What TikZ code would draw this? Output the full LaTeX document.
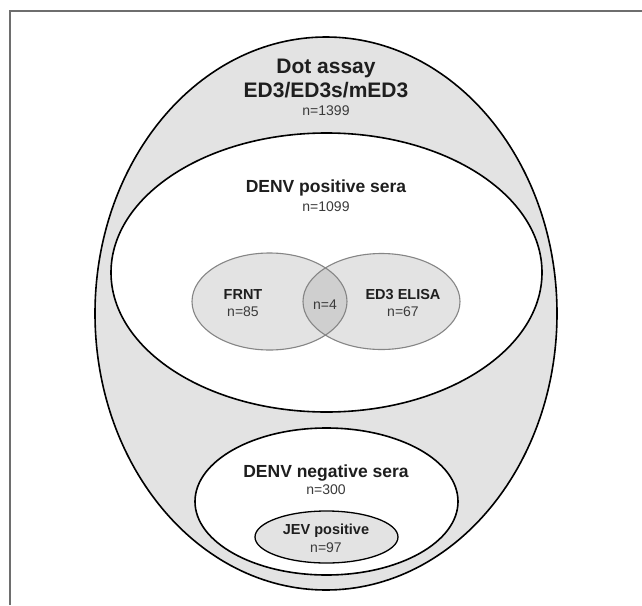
\documentclass[tikz,border=0pt]{standalone}
\usepackage{fontspec}
\setmainfont{Liberation Sans}
\usetikzlibrary{shapes.geometric}
\definecolor{shade}{HTML}{E3E3E3}
\definecolor{lensgray}{HTML}{CFCFCF}
\definecolor{setline}{HTML}{858585}
\definecolor{framegray}{HTML}{6E6E6E}
\definecolor{txt}{HTML}{1E1E1E}
\definecolor{numtxt}{HTML}{3A3A3A}
\tikzset{
  blob/.style={ellipse, inner sep=0pt, outer sep=0pt},
  title/.style={font=\bfseries\fontsize{21}{24}\selectfont, text=txt, inner sep=0pt},
  head/.style={font=\bfseries\fontsize{17.5}{20}\selectfont, text=txt, inner sep=0pt},
  small/.style={font=\bfseries\fontsize{14.5}{17}\selectfont, text=txt, inner sep=0pt},
  count/.style={font=\fontsize{14}{16}\selectfont, text=numtxt, inner sep=0pt},
}
\begin{document}
\begin{tikzpicture}[x=1pt,y=-1pt]
\useasboundingbox (0,0) rectangle (642,605);
\fill[white] (0,0) rectangle (642,605);
% frame
\draw[framegray, line width=1.6pt] (10,605) -- (10,11) -- (642,11);
% outer
\node[blob, fill=shade, draw=black, line width=1.6pt, minimum width=462pt, minimum height=553pt] (outer) at (326,313.5) {};
% DENV positive
\node[blob, fill=white, draw=black, line width=1.6pt, minimum width=431pt, minimum height=279pt] (pos) at (326.5,272.5) {};
% FRNT and ED3 ELISA
\node[blob, fill=shade, minimum width=155pt, minimum height=97pt] (frnt) at (269.5,301.5) {};
\node[blob, fill=shade, minimum width=157pt, minimum height=96pt] (elisa) at (381.5,301.5) {};
\begin{scope}
  \clip (269.5,301.5) ellipse [x radius=77.5pt, y radius=48.5pt];
  \fill[lensgray] (381.5,301.5) ellipse [x radius=78.5pt, y radius=48pt];
\end{scope}
\draw[setline, line width=1.1pt] (frnt.center) ellipse [x radius=77.5pt, y radius=48.5pt];
\draw[setline, line width=1.1pt] (elisa.center) ellipse [x radius=78.5pt, y radius=48pt];
% DENV negative
\node[blob, fill=white, draw=black, line width=1.6pt, minimum width=263pt, minimum height=147pt] (neg) at (326.5,501.5) {};
% JEV
\node[blob, fill=shade, draw=black, line width=1.3pt, minimum width=143pt, minimum height=52pt] (jev) at (326.5,537) {};
% texts
\node[title] (t1) at (326,68) {Dot assay};
\node[title] (t2) at (326,90) {ED3/ED3s/mED3};
\node[count] (t3) at (326,111) {n=1399};
\node[head] (p1) at (326,188) {DENV positive sera};
\node[count] (p2) at (326,207) {n=1099};
\node[small] (f1) at (243,295) {FRNT};
\node[count] (f2) at (243,312) {n=85};
\node[count] (lens) at (325,305) {n=4};
\node[small] (e1) at (403,295) {ED3 ELISA};
\node[count] (e2) at (403,312) {n=67};
\node[head] (n1) at (326,473) {DENV negative sera};
\node[count] (n2) at (326,490) {n=300};
\node[small] (j1) at (326,531) {JEV positive};
\node[count] (j2) at (326,548) {n=97};
\end{tikzpicture}
\end{document}
